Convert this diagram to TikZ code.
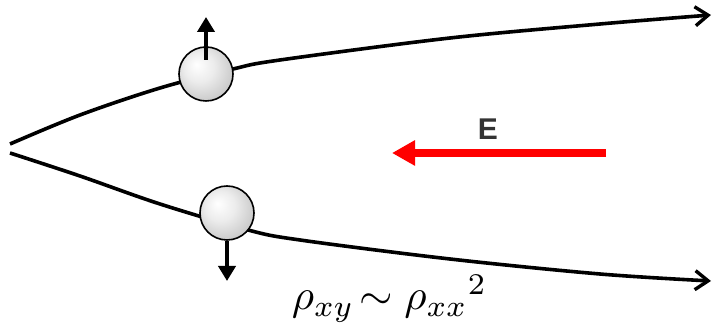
\documentclass[tikz,border=0pt]{standalone}
\usepackage{fontspec}
\newfontfamily\Efont{Liberation Sans}
\usetikzlibrary{arrows.meta}
\definecolor{Efield}{RGB}{255,0,0}
\definecolor{Elabel}{RGB}{51,51,51}
\pgfdeclareradialshading{ballshade}{\pgfpoint{-9bp}{9bp}}{color(0bp)=(white); color(14bp)=(gray!15); color(34bp)=(gray!50); color(50bp)=(gray!60)}

\begin{document}
\begin{tikzpicture}[x=1pt,y=-1pt,line cap=butt,
  track/.style={line width=3.6pt,-{Straight Barb[length=13pt,width=19pt,line width=3.4pt]}},
  ball/.style={circle,draw,line width=1.6pt,shading=ballshade,minimum size=54pt,inner sep=0pt},
  spin/.style={line width=4.5pt,-{Triangle[length=15pt,width=17pt]}}]
\path[use as bounding box] (0,0) rectangle (713,336);
\draw[track] plot[smooth,tension=0.55] coordinates {(10,144) (80,115) (160,88) (233,69) (280,60) (450,38) (600,24) (711,15)};
\draw[track] plot[smooth,tension=0.55] coordinates {(10,153) (80,176) (160,204) (248,230) (300,240) (450,259) (600,274) (711,281)};
\node[ball] (ballup) at (206,74) {};
\node[ball] (balldown) at (227,213) {};
\coordinate (spinup) at (206,17);
\coordinate (spindown) at (227,281);
\draw[spin] ([yshift=14pt]ballup.center) -- (spinup);
\draw[spin] (balldown.south) -- (spindown);
\coordinate (Estart) at (606,153);
\coordinate (Eend) at (392,153);
\draw[line width=8pt,color=Efield,-{Triangle[length=23pt,width=24pt]}] (Estart) -- (Eend);
\node[text=Elabel,font=\Efont\bfseries\fontsize{30}{34}\selectfont,inner sep=0pt] (Elab) at (488,129) {E};
\node[anchor=base west,inner sep=0pt,scale=4.3] (rho) at (291,310) {$\rho_{xy}\!\sim\rho_{xx}{}^{2}$};
\end{tikzpicture}
\end{document}
